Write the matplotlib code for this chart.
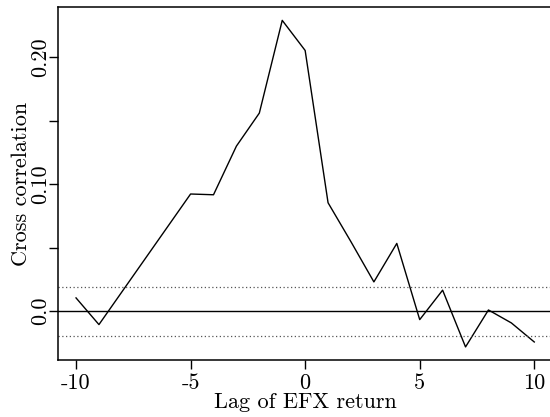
import matplotlib
matplotlib.use("Agg")
import matplotlib.pyplot as plt

lags = list(range(-10, 11))
ccf = [0.0105, -0.0105, 0.0152, 0.0409, 0.0666, 0.0923, 0.0917, 0.1300, 0.1560,
       0.2290, 0.2053, 0.0854, 0.0547, 0.0231, 0.0534, -0.0066, 0.0166, -0.0281,
       0.0010, -0.0092, -0.0242]
conf = 0.0193
xticks = [-10, -5, 0, 5, 10]
xticklabels = ["-10", "-5", "0", "5", "10"]
yticks = [0.0, 0.05, 0.10, 0.15, 0.20]
yticklabels = ["0.0", "", "0.10", "", "0.20"]

plt.rcParams['font.family'] = ['cmr10', 'DejaVu Serif']
plt.rcParams['axes.unicode_minus'] = False

fig = plt.figure(figsize=(5.5, 4.17), dpi=100)
W, H = 550, 417
left, right, top, bottom = 57.7, 552.6, 7.3, 360
ax = fig.add_axes([left / W, 1 - bottom / H, (right - left) / W, (bottom - top) / H])

ax.plot(lags, ccf, color='black', lw=1.0)
ax.axhline(0, color='black', lw=1.0)
ax.axhline(conf, color='#555555', lw=0.9, ls=(0, (1, 2)))
ax.axhline(-conf, color='#555555', lw=0.9, ls=(0, (1, 2)))

rng = max(lags) - min(lags)
ax.set_xlim(min(lags) - 0.04 * rng, max(lags) + 0.04 * rng)
yr = max(ccf) - min(ccf)
ax.set_ylim(min(ccf) - 0.04 * yr, max(ccf) + 0.04 * yr)

ax.set_xticks(xticks)
ax.set_xticklabels(xticklabels)
ax.set_yticks(yticks)
ax.set_yticklabels(yticklabels, rotation=90, va='center')
ax.tick_params(axis='both', direction='out', length=6.5, width=1.0, labelsize=16, pad=3)
ax.tick_params(axis='y', pad=-1)
for s in ax.spines.values():
    s.set_linewidth(1.1)

ax.set_xlabel("Lag of EFX return", fontsize=16, labelpad=0)
ax.set_ylabel("Cross correlation", fontsize=16, labelpad=0)

fig.savefig("out.png", dpi=100)
